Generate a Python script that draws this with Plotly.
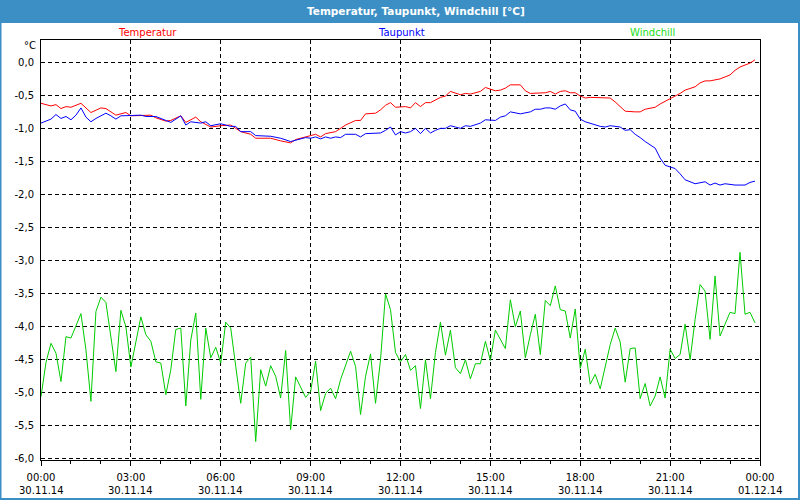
import pandas as pd
import plotly.graph_objects as go

DAY = "2014-11-30"
TITLE = "Temperatur, Taupunkt, Windchill [°C]"
SERIES_NAMES = ["Temperatur", "Taupunkt", "Windchill"]

# minutes after midnight / °C
temp_min = [0, 20, 30, 40, 50, 60, 80, 100, 120, 130, 150, 170, 180, 200, 220, 230, 250, 260, 280, 290,
            310, 320, 340, 360, 380, 400, 420, 430, 460, 480, 500, 510, 530, 540, 550, 560, 570, 590, 610, 630,
            640, 650, 670, 680, 690, 700, 710, 730, 740, 750, 760, 770, 780, 800, 810, 820, 830, 840, 850, 860,
            880, 890, 910, 920, 930, 940, 960, 970, 980, 1000, 1010, 1020, 1030, 1040, 1050, 1060, 1070, 1080,
            1090, 1100, 1130, 1140, 1150, 1170, 1190, 1200, 1210, 1230, 1240, 1250, 1270, 1280, 1290, 1310,
            1320, 1330, 1340, 1350, 1360, 1380, 1390, 1400, 1420, 1430]
temp_val = [-0.62, -0.66, -0.64, -0.70, -0.67, -0.68, -0.62, -0.76, -0.69, -0.70, -0.80, -0.76, -0.81, -0.81,
            -0.80, -0.84, -0.89, -0.88, -0.81, -0.91, -0.83, -0.90, -0.98, -0.96, -0.95, -1.05, -1.09, -1.15,
            -1.15, -1.19, -1.22, -1.17, -1.13, -1.11, -1.09, -1.13, -1.08, -1.05, -0.95, -0.88, -0.88, -0.78,
            -0.77, -0.72, -0.65, -0.61, -0.68, -0.67, -0.69, -0.61, -0.67, -0.61, -0.61, -0.53, -0.51, -0.44,
            -0.47, -0.49, -0.47, -0.48, -0.44, -0.38, -0.43, -0.42, -0.39, -0.34, -0.34, -0.43, -0.47, -0.47,
            -0.46, -0.44, -0.48, -0.44, -0.43, -0.46, -0.46, -0.51, -0.54, -0.53, -0.53, -0.54, -0.60, -0.74,
            -0.75, -0.75, -0.71, -0.68, -0.63, -0.59, -0.52, -0.47, -0.42, -0.37, -0.31, -0.28, -0.28, -0.26,
            -0.25, -0.19, -0.12, -0.07, -0.01, 0.04]

dew_min = [0, 20, 30, 40, 50, 60, 70, 80, 90, 100, 110, 130, 140, 150, 160, 190, 200, 210, 230, 250, 260,
           280, 290, 300, 320, 330, 340, 360, 380, 390, 400, 420, 430, 460, 480, 500, 510, 530, 540, 550, 560,
           570, 580, 590, 600, 610, 630, 640, 650, 680, 690, 700, 710, 720, 730, 740, 750, 760, 770, 780, 790,
           800, 810, 820, 830, 840, 850, 860, 880, 890, 910, 920, 930, 940, 960, 970, 980, 990, 1000, 1010,
           1020, 1030, 1040, 1050, 1060, 1070, 1080, 1090, 1110, 1120, 1130, 1140, 1160, 1170, 1180, 1190,
           1200, 1210, 1230, 1240, 1250, 1270, 1280, 1290, 1310, 1320, 1330, 1340, 1350, 1360, 1370, 1390,
           1410, 1420, 1430]
dew_val = [-0.92, -0.86, -0.79, -0.85, -0.82, -0.87, -0.80, -0.69, -0.83, -0.90, -0.85, -0.77, -0.81, -0.86,
           -0.81, -0.81, -0.80, -0.82, -0.82, -0.88, -0.91, -0.81, -0.95, -0.90, -0.92, -0.90, -0.96, -0.93,
           -0.97, -0.97, -1.05, -1.05, -1.11, -1.12, -1.15, -1.20, -1.18, -1.14, -1.15, -1.13, -1.16, -1.13,
           -1.15, -1.13, -1.14, -1.09, -1.09, -1.13, -1.08, -1.07, -1.03, -0.98, -1.10, -1.05, -1.07, -1.05,
           -1.00, -1.08, -1.00, -1.07, -1.03, -1.00, -1.00, -0.96, -0.98, -1.00, -0.96, -0.97, -0.92, -0.87,
           -0.88, -0.83, -0.81, -0.75, -0.78, -0.77, -0.75, -0.71, -0.71, -0.69, -0.69, -0.71, -0.66, -0.63,
           -0.72, -0.74, -0.86, -0.90, -0.95, -0.97, -0.98, -0.96, -0.98, -1.03, -1.02, -1.09, -1.14, -1.20,
           -1.30, -1.45, -1.56, -1.61, -1.69, -1.78, -1.84, -1.83, -1.81, -1.86, -1.83, -1.86, -1.84, -1.86,
           -1.86, -1.82, -1.80]

# windchill every 10 minutes from 00:00 to 23:50
wc_val = [-5.07, -4.55, -4.26, -4.41, -4.84, -4.16, -4.18, -4.00, -3.81, -4.36, -5.14, -3.78, -3.56, -3.64,
          -4.16, -4.69, -3.76, -4.01, -4.62, -4.21, -3.86, -4.13, -4.23, -4.54, -4.56, -5.04, -4.66, -4.05,
          -4.03, -5.21, -4.21, -3.80, -5.11, -4.03, -4.48, -4.32, -4.56, -3.94, -4.03, -4.61, -5.17, -4.56,
          -4.47, -5.75, -4.66, -4.91, -4.60, -4.76, -5.09, -4.37, -5.57, -4.77, -4.92, -5.08, -4.99, -4.53,
          -5.28, -5.02, -4.94, -5.10, -4.81, -4.59, -4.38, -4.61, -5.34, -4.76, -4.42, -5.17, -4.51, -3.51,
          -3.75, -4.40, -4.54, -4.43, -4.67, -4.60, -5.25, -4.51, -5.10, -4.40, -3.94, -4.44, -4.06, -4.63,
          -4.72, -4.51, -4.80, -4.57, -4.57, -4.23, -4.52, -4.06, -4.19, -4.34, -3.60, -4.01, -3.77, -4.48,
          -4.13, -3.82, -4.43, -3.61, -3.69, -3.39, -3.75, -3.77, -4.18, -3.74, -4.64, -4.35, -4.88, -4.73,
          -4.95, -4.61, -4.28, -4.03, -4.24, -4.85, -4.34, -4.33, -5.10, -4.87, -5.21, -5.06, -4.77, -5.09,
          -4.35, -4.49, -4.43, -3.97, -4.51, -3.90, -3.37, -3.47, -4.20, -3.24, -4.15, -3.97, -3.79, -3.81,
          -2.88, -3.82, -3.79, -3.95]
wc_min = [10 * i for i in range(len(wc_val))]

x_tick_hours = [0, 3, 6, 9, 12, 15, 18, 21, 24]
x_tick_time = ["00:00", "03:00", "06:00", "09:00", "12:00", "15:00", "18:00", "21:00", "00:00"]
x_tick_date = ["30.11.14", "30.11.14", "30.11.14", "30.11.14", "30.11.14", "30.11.14", "30.11.14",
               "30.11.14", "01.12.14"]
y_tick_vals = [0.0, -0.5, -1.0, -1.5, -2.0, -2.5, -3.0, -3.5, -4.0, -4.5, -5.0, -5.5, -6.0]
y_tick_text = ["0,0", "-0,5", "-1,0", "-1,5", "-2,0", "-2,5", "-3,0", "-3,5", "-4,0", "-4,5", "-5,0", "-5,5", "-6,0"]

COLORS = ["#ff0000", "#0000ff", "#00cc00"]
BAR = "#3c8fc5"
FONT = "DejaVu Sans"

base = pd.Timestamp(DAY)
def tx(mins):
    return base + pd.to_timedelta(mins, unit="min")

fig = go.Figure()
for name, mins, vals, col in zip(SERIES_NAMES, [temp_min, dew_min, wc_min], [temp_val, dew_val, wc_val], COLORS):
    fig.add_trace(go.Scatter(x=tx(mins), y=vals, mode="lines", name=name,
                             line=dict(color=col, width=1), showlegend=False))

W, H = 800, 500
L, R, T, B = 41, 760, 40, 460
pw, ph = R - L, B - T
def px(x):
    return (x - L) / pw
def py(y):
    return (B - y) / ph

tick_pos = [tx(h * 60) for h in x_tick_hours]

fig.update_layout(
    width=W, height=H,
    margin=dict(l=L, r=W - R, t=T, b=H - B, pad=0, autoexpand=False),
    paper_bgcolor="white", plot_bgcolor="white",
    font=dict(family=FONT, size=10, color="black"),
    xaxis=dict(range=[tx(0), tx(1440)], tickvals=tick_pos, ticktext=x_tick_time, automargin=False,
               showgrid=True, gridcolor="black", gridwidth=1, griddash="4px,3px",
               showline=True, linecolor="black", linewidth=1, mirror=True,
               ticks="outside", ticklen=5, tickcolor="black", zeroline=False, ticklabelstandoff=3,
               minor=dict(dtick=3600000, ticks="outside", ticklen=3, tickcolor="black", showgrid=False)),
    yaxis=dict(range=[-6.03, 0.34], tickvals=y_tick_vals, ticktext=y_tick_text, automargin=False,
               showgrid=True, gridcolor="black", gridwidth=1, griddash="4px,3px",
               showline=True, linecolor="black", linewidth=1, mirror=True,
               ticks="", zeroline=False, ticklabelstandoff=4),
)

shapes = [
    dict(type="rect", xref="paper", yref="paper", x0=px(0), x1=px(W), y0=py(22), y1=py(0),
         fillcolor=BAR, line=dict(width=0), layer="above"),
    dict(type="rect", xref="paper", yref="paper", x0=px(0.5), x1=px(W - 1), y0=py(H - 1), y1=py(22),
         fillcolor="rgba(0,0,0,0)", line=dict(color=BAR, width=2), layer="above"),
]
fig.update_layout(shapes=shapes)

ann = [
    dict(text="<b>" + TITLE + "</b>", x=px(416), y=py(11), font=dict(color="white", size=10.5, family=FONT)),
    dict(text=SERIES_NAMES[0], x=px(147), y=py(32), font=dict(color=COLORS[0])),
    dict(text=SERIES_NAMES[1], x=px(401), y=py(32), font=dict(color=COLORS[1])),
    dict(text=SERIES_NAMES[2], x=px(652), y=py(32), font=dict(color="#22dd22")),
    dict(text="°C", x=px(30), y=py(46), font=dict(color="black")),
]
for a in ann:
    a.update(xref="paper", yref="paper", showarrow=False, xanchor="center", yanchor="middle")
for pos, d in zip(tick_pos, x_tick_date):
    ann.append(dict(text=d, x=pos, xref="x", y=py(490), yref="paper", showarrow=False,
                    xanchor="center", yanchor="middle"))
fig.update_layout(annotations=ann)

fig.write_html("out.html", config={"displayModeBar": False},
               post_script="document.body.style.margin='0';document.body.style.overflow='hidden';")
